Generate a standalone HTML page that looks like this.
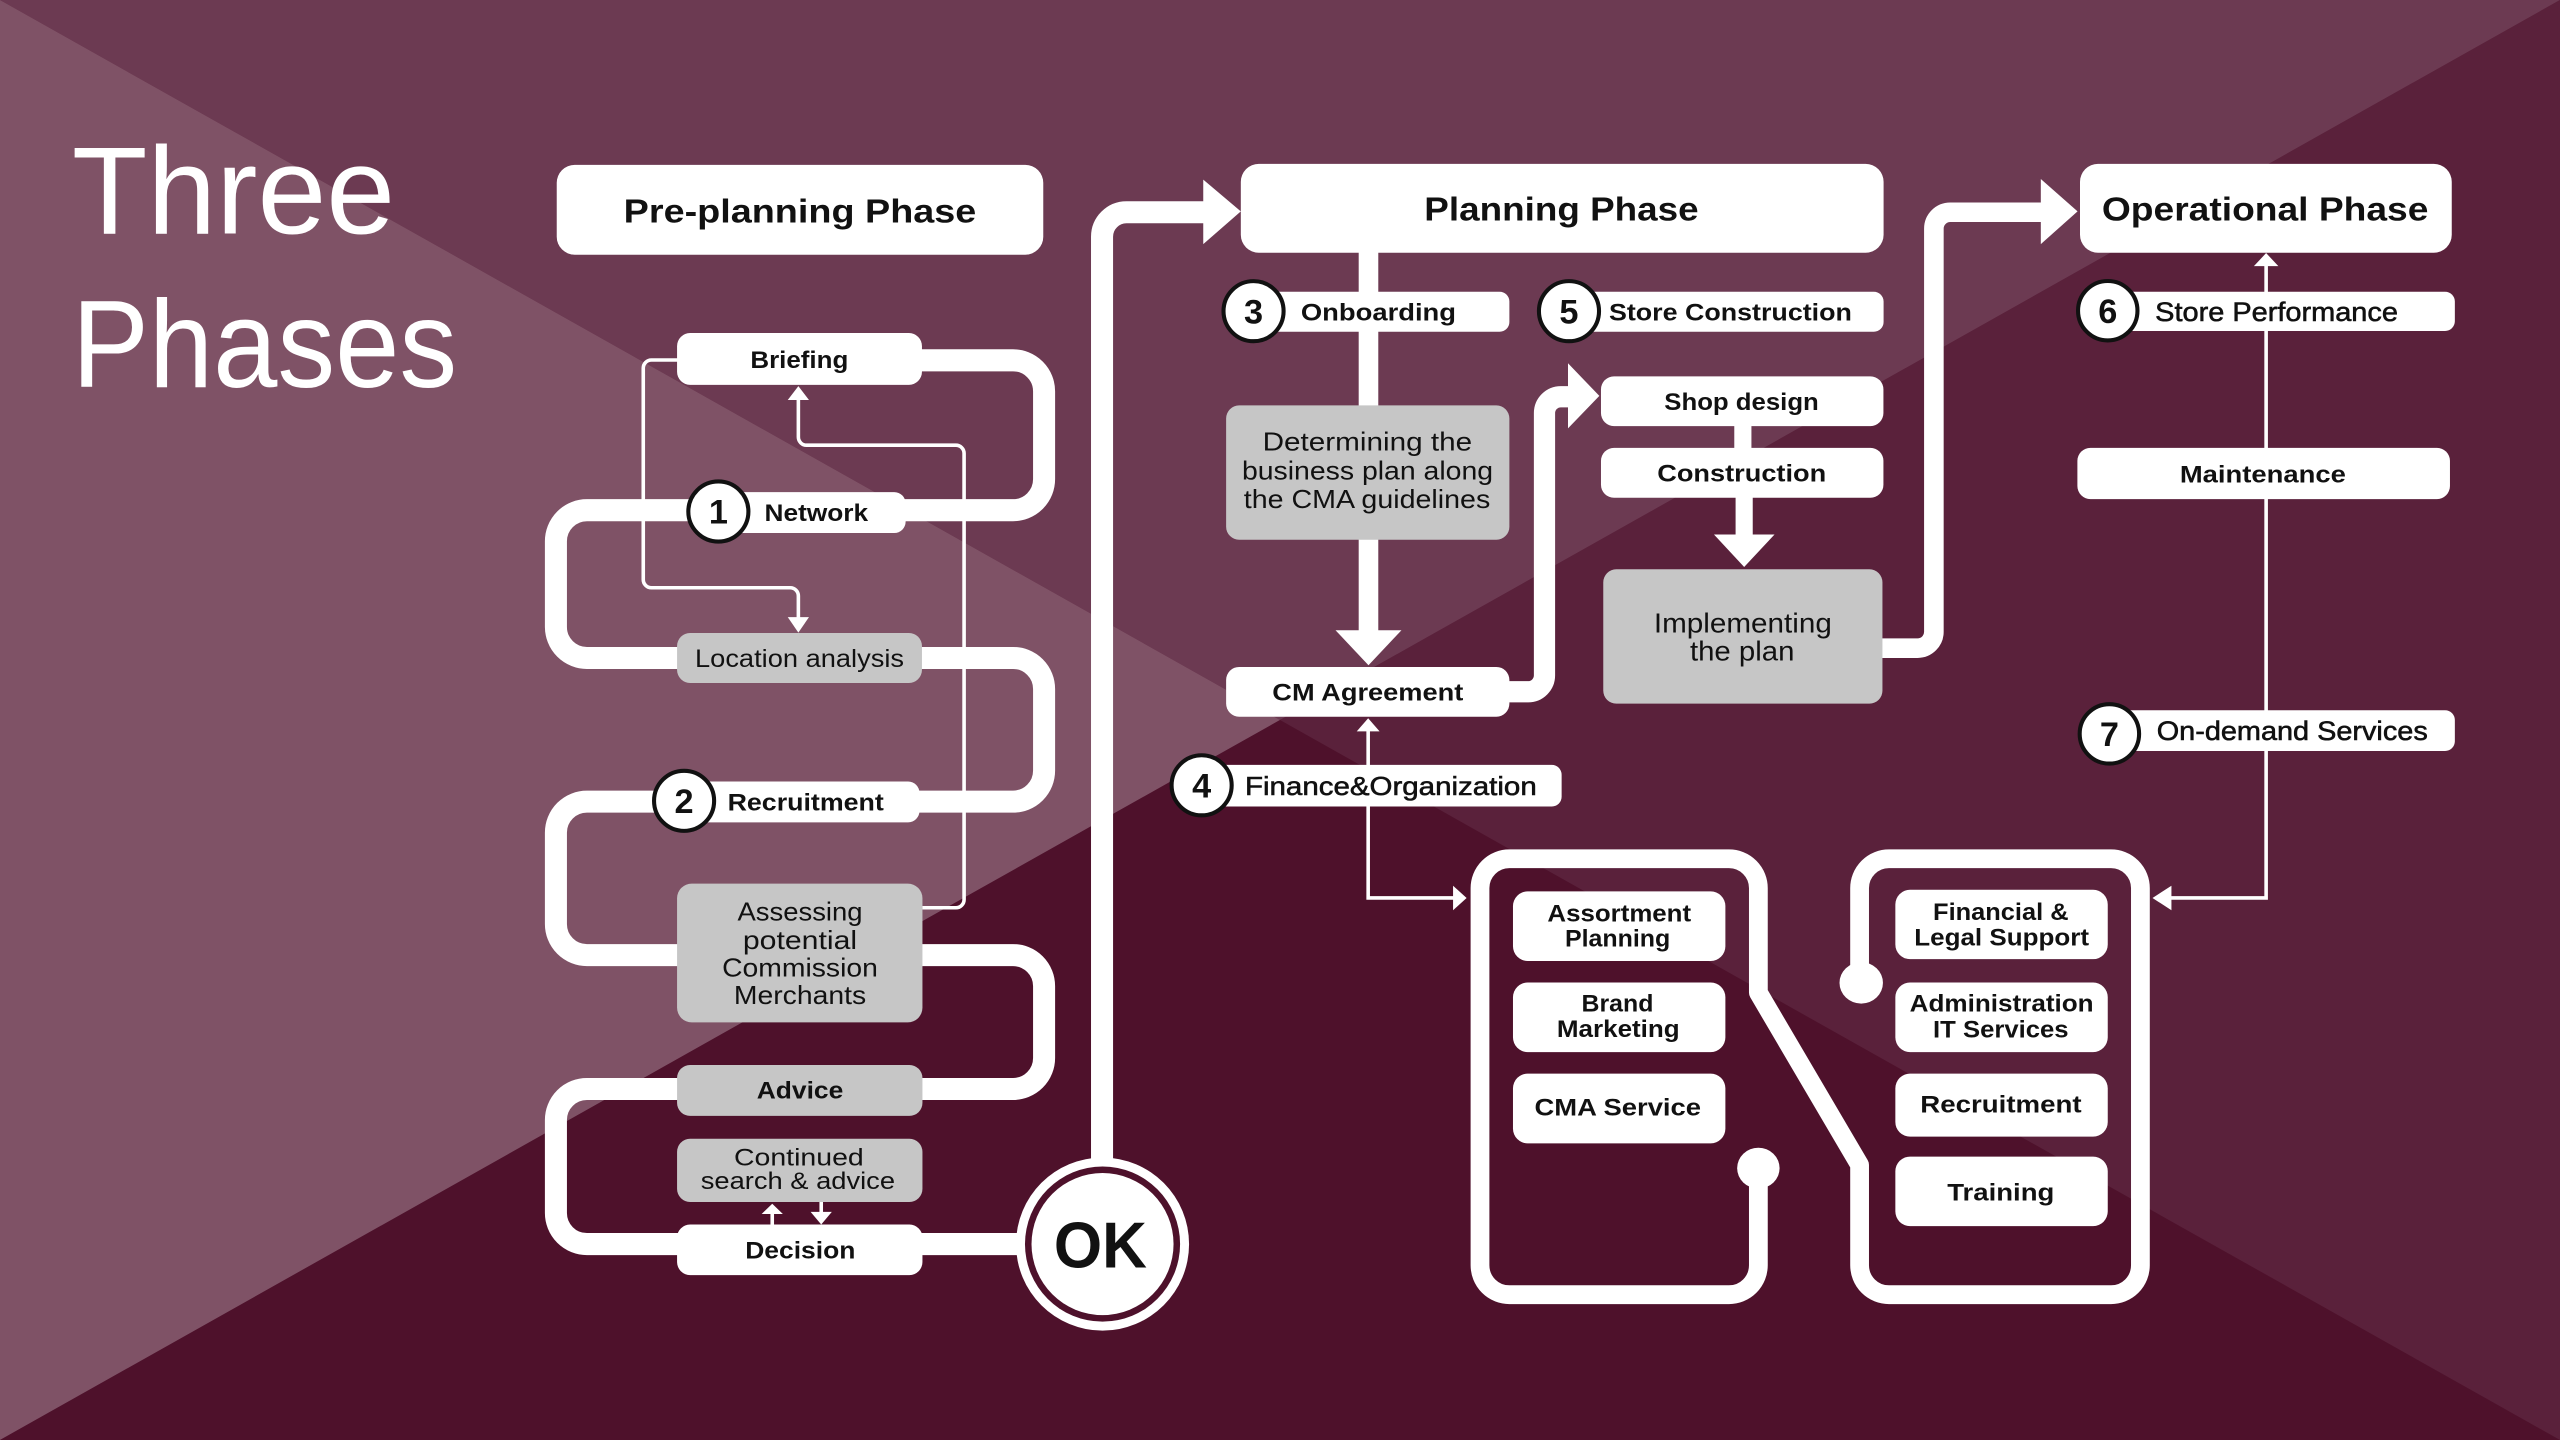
<!DOCTYPE html>
<html>
<head>
<meta charset="utf-8">
<style>
html,body{margin:0;padding:0;width:2560px;height:1440px;overflow:hidden;background:#5a213b;}
svg{display:block;}
text{font-family:"Liberation Sans",Arial,sans-serif;fill:#111;}
.b{font-weight:bold;}
.c{text-anchor:middle;}
.m{stroke:#111;stroke-width:0.35;}
.t{fill:#fff;}
.band{fill:none;stroke:#fff;stroke-width:13.5;}
.thin{fill:none;stroke:#fff;stroke-width:2.2;}
.num{fill:#fff;stroke:#111;stroke-width:2.5;}
</style>
</head>
<body>
<svg xmlns="http://www.w3.org/2000/svg" width="2560" height="1440" viewBox="0 0 1568 882">
  <!-- background -->
  <polygon points="0,0 1568,0 784,441" fill="#6c3a52"/>
  <polygon points="0,0 0,882 784,441" fill="#7f5266"/>
  <polygon points="1568,0 1568,882 784,441" fill="#5a213b"/>
  <polygon points="0,882 1568,882 784,441" fill="#4e112b"/>

  <!-- title -->
  <text x="44" y="143" class="t" font-size="76" textLength="198" lengthAdjust="spacingAndGlyphs">Three</text>
  <text x="44" y="237" class="t" font-size="76" textLength="236" lengthAdjust="spacingAndGlyphs">Phases</text>

  <!-- ===== Pre-planning serpentine ===== -->
  <path class="band" d="M 560 220.7 H 620.5 A 19 19 0 0 1 639.5 239.7 V 293.5 A 19 19 0 0 1 620.5 312.5 H 359.5 A 19 19 0 0 0 340.5 331.5 V 384 A 19 19 0 0 0 359.5 403 H 620.5 A 19 19 0 0 1 639.5 422 V 472 A 19 19 0 0 1 620.5 491 H 359.5 A 19 19 0 0 0 340.5 510 V 566 A 19 19 0 0 0 359.5 585 H 620.5 A 19 19 0 0 1 639.5 604 V 648 A 19 19 0 0 1 620.5 667 H 359.5 A 19 19 0 0 0 340.5 686 V 743 A 19 19 0 0 0 359.5 762 H 630"/>

  <!-- thin feedback lines -->
  <path class="thin" d="M 415 220.5 H 399 A 5 5 0 0 0 394 225.5 V 355 A 5 5 0 0 0 399 360 H 484 A 5 5 0 0 1 489 365 V 379"/>
  <polygon points="482.5,378 495.5,378 489,387.5" fill="#fff"/>
  <path class="thin" d="M 565 556 H 585.5 A 5 5 0 0 0 590.5 551 V 277.7 A 5 5 0 0 0 585.5 272.7 H 494 A 5 5 0 0 1 489 267.7 V 244"/>
  <polygon points="482.5,245 495.5,245 489,236.5" fill="#fff"/>

  <!-- continued/decision small arrows -->
  <line x1="473" y1="751" x2="473" y2="743" stroke="#fff" stroke-width="2.2"/>
  <polygon points="466.5,743.6 479.5,743.6 473,737.3" fill="#fff"/>
  <line x1="503" y1="736" x2="503" y2="743" stroke="#fff" stroke-width="2.2"/>
  <polygon points="496.5,742.3 509.5,742.3 503,750" fill="#fff"/>

  <!-- OK -> Planning connector -->
  <path class="band" d="M 675 712 V 145 A 15 15 0 0 1 690 130 H 740"/>
  <polygon points="737,110 737,149.5 760,129.5" fill="#fff"/>

  <!-- phase boxes -->
  <rect x="341" y="101" width="298" height="55" rx="11" fill="#fff"/>
  <text x="490" y="136.3" class="b c" font-size="20.5" textLength="216" lengthAdjust="spacingAndGlyphs">Pre-planning Phase</text>
  <rect x="760" y="100.4" width="393.7" height="54.4" rx="11" fill="#fff"/>
  <text x="956.4" y="135" class="b c" font-size="20.5" textLength="168" lengthAdjust="spacingAndGlyphs">Planning Phase</text>
  <rect x="1274" y="100.4" width="227.7" height="54.4" rx="11" fill="#fff"/>
  <text x="1387.4" y="135" class="b c" font-size="20.5" textLength="200" lengthAdjust="spacingAndGlyphs">Operational Phase</text>

  <!-- pre-planning boxes -->
  <rect x="414.7" y="204" width="150" height="31.7" rx="8" fill="#fff"/>
  <text x="489.6" y="225.4" class="b c" font-size="15" textLength="60" lengthAdjust="spacingAndGlyphs">Briefing</text>

  <rect x="440" y="301.4" width="114.7" height="25.1" rx="7" fill="#fff"/>
  <text x="500" y="319.2" class="b c" font-size="15" textLength="63.4" lengthAdjust="spacingAndGlyphs">Network</text>
  <circle cx="440" cy="313.3" r="18.4" class="num"/>
  <text x="440" y="320.8" class="b c" font-size="21">1</text>

  <rect x="414.7" y="387.7" width="150" height="30.6" rx="8" fill="#c6c6c6"/>
  <text x="489.7" y="408.5" class="c" font-size="15.5" textLength="128" lengthAdjust="spacingAndGlyphs">Location analysis</text>

  <rect x="419" y="478.7" width="144.2" height="25" rx="7" fill="#fff"/>
  <text x="493.5" y="496.4" class="b c" font-size="15" textLength="95.7" lengthAdjust="spacingAndGlyphs">Recruitment</text>
  <circle cx="419" cy="490.5" r="18.4" class="num"/>
  <text x="419" y="498" class="b c" font-size="21">2</text>

  <rect x="414.7" y="541.2" width="150.3" height="85" rx="9" fill="#c6c6c6"/>
  <text x="490" y="563.9" class="c" font-size="16" textLength="76.6" lengthAdjust="spacingAndGlyphs">Assessing</text>
  <text x="490" y="581.4" class="c" font-size="16" textLength="70" lengthAdjust="spacingAndGlyphs">potential</text>
  <text x="490" y="598.2" class="c" font-size="16" textLength="95.4" lengthAdjust="spacingAndGlyphs">Commission</text>
  <text x="490" y="614.9" class="c" font-size="16" textLength="81" lengthAdjust="spacingAndGlyphs">Merchants</text>

  <rect x="414.7" y="652.3" width="150.3" height="31.2" rx="8" fill="#c6c6c6"/>
  <text x="490" y="672.9" class="b c" font-size="15" textLength="53" lengthAdjust="spacingAndGlyphs">Advice</text>

  <rect x="414.7" y="697.5" width="150.3" height="38.7" rx="8" fill="#c6c6c6"/>
  <text x="489.3" y="713.8" class="c" font-size="15" textLength="79.5" lengthAdjust="spacingAndGlyphs">Continued</text>
  <text x="488.7" y="728.2" class="c" font-size="15" textLength="119" lengthAdjust="spacingAndGlyphs">search &amp; advice</text>

  <rect x="414.7" y="750" width="150.3" height="31" rx="8" fill="#fff"/>
  <text x="490.2" y="770.7" class="b c" font-size="15" textLength="67.5" lengthAdjust="spacingAndGlyphs">Decision</text>

  <!-- OK circle -->
  <circle cx="675.3" cy="762" r="53" fill="#fff"/>
  <circle cx="675.3" cy="762" r="47.5" fill="#4e112b"/>
  <circle cx="675.3" cy="762" r="43.5" fill="#fff"/>
  <text x="674" y="776.5" class="b c" font-size="40" textLength="57" lengthAdjust="spacingAndGlyphs">OK</text>

  <!-- ===== Planning ===== -->
  <line x1="838.2" y1="154" x2="838.2" y2="387" stroke="#fff" stroke-width="12"/>
  <polygon points="818,386 858.4,386 838.2,407.5" fill="#fff"/>
  <path fill="none" stroke="#fff" stroke-width="13" d="M 922 423.7 H 936 A 10 10 0 0 0 946 413.7 V 253 A 10 10 0 0 1 956 243 H 962"/>
  <polygon points="960.4,222.5 960.4,262.4 979.6,242.5" fill="#fff"/>
  <line x1="1067.5" y1="259" x2="1067.5" y2="277" stroke="#fff" stroke-width="10.5"/>
  <line x1="1068.3" y1="303" x2="1068.3" y2="328.5" stroke="#fff" stroke-width="10.5"/>
  <polygon points="1049.8,327.4 1086.9,327.4 1068.3,347.3" fill="#fff"/>
  <path fill="none" stroke="#fff" stroke-width="12" d="M 1150 397 H 1174.5 A 10 10 0 0 0 1184.5 387 V 140 A 10 10 0 0 1 1194.5 130 H 1252"/>
  <polygon points="1250,109.6 1250,149.5 1272.5,129.5" fill="#fff"/>

  <!-- Finance thin connector -->
  <path class="thin" d="M 838 447 V 550 H 891"/>
  <polygon points="831,448 845,448 838,439.9" fill="#fff"/>
  <polygon points="890,542.5 890,557.5 898.3,550" fill="#fff"/>

  <rect x="768" y="178.7" width="156.5" height="24.5" rx="6" fill="#fff"/>
  <text x="844.3" y="196.3" class="b c" font-size="15" textLength="95" lengthAdjust="spacingAndGlyphs">Onboarding</text>
  <circle cx="767.8" cy="190.6" r="18.4" class="num"/>
  <text x="767.8" y="198.1" class="b c" font-size="21">3</text>

  <rect x="961" y="178.7" width="192.7" height="24.5" rx="6" fill="#fff"/>
  <text x="1059.9" y="196.4" class="b c" font-size="15" textLength="148.8" lengthAdjust="spacingAndGlyphs">Store Construction</text>
  <circle cx="961" cy="190.6" r="18.4" class="num"/>
  <text x="961" y="198.1" class="b c" font-size="21">5</text>

  <rect x="751" y="248.3" width="173.5" height="82.3" rx="8" fill="#c6c6c6"/>
  <text x="837.5" y="276" class="c" font-size="16" textLength="128.3" lengthAdjust="spacingAndGlyphs">Determining the</text>
  <text x="837.6" y="293.7" class="c" font-size="16" textLength="153.8" lengthAdjust="spacingAndGlyphs">business plan along</text>
  <text x="837.3" y="311.3" class="c" font-size="16" textLength="151" lengthAdjust="spacingAndGlyphs">the CMA guidelines</text>

  <rect x="751" y="408.5" width="173.5" height="30.5" rx="8" fill="#fff"/>
  <text x="837.8" y="429.1" class="b c" font-size="15" textLength="117" lengthAdjust="spacingAndGlyphs">CM Agreement</text>

  <rect x="980.6" y="230.5" width="173" height="30.5" rx="8" fill="#fff"/>
  <text x="1066.7" y="251.1" class="b c" font-size="15" textLength="94.6" lengthAdjust="spacingAndGlyphs">Shop design</text>
  <rect x="980.6" y="274.3" width="173" height="30.6" rx="8" fill="#fff"/>
  <text x="1066.8" y="295" class="b c" font-size="15" textLength="103.5" lengthAdjust="spacingAndGlyphs">Construction</text>

  <rect x="982" y="348.7" width="171" height="82.3" rx="8" fill="#c6c6c6"/>
  <text x="1067.5" y="387.4" class="c" font-size="17" textLength="109" lengthAdjust="spacingAndGlyphs">Implementing</text>
  <text x="1067.1" y="404.7" class="c" font-size="17" textLength="64" lengthAdjust="spacingAndGlyphs">the plan</text>

  <rect x="736" y="468.5" width="220.5" height="25.5" rx="6" fill="#fff"/>
  <text x="851.9" y="487" class="c m" font-size="16" textLength="178.7" lengthAdjust="spacingAndGlyphs">Finance&amp;Organization</text>
  <circle cx="736" cy="481" r="18.4" class="num"/>
  <text x="736" y="488.5" class="b c" font-size="21">4</text>

  <!-- ===== Operational ===== -->
  <path class="thin" d="M 1388 162 V 550 H 1329"/>
  <polygon points="1380.5,163 1395.5,163 1388,155" fill="#fff"/>
  <polygon points="1330,542.5 1330,557.5 1318.4,550" fill="#fff"/>

  <rect x="1291" y="178.7" width="212.6" height="24" rx="6" fill="#fff"/>
  <text x="1394.4" y="196.5" class="c m" font-size="16.5" textLength="148.7" lengthAdjust="spacingAndGlyphs">Store Performance</text>
  <circle cx="1291" cy="190.3" r="18.2" class="num"/>
  <text x="1291" y="197.8" class="b c" font-size="21">6</text>

  <rect x="1272.4" y="274.3" width="228.2" height="31.4" rx="8" fill="#fff"/>
  <text x="1386" y="295.4" class="b c" font-size="15" textLength="101.7" lengthAdjust="spacingAndGlyphs">Maintenance</text>

  <rect x="1292" y="435" width="211.6" height="25" rx="6" fill="#fff"/>
  <text x="1404" y="453.4" class="c m" font-size="16.5" textLength="166" lengthAdjust="spacingAndGlyphs">On-demand Services</text>
  <circle cx="1292" cy="449.5" r="18.2" class="num"/>
  <text x="1292" y="457" class="b c" font-size="21">7</text>

  <!-- ===== Services containers ===== -->
  <path fill="none" stroke="#fff" stroke-width="11.5" stroke-linejoin="round" d="M 1077 715 V 775 A 18 18 0 0 1 1059 793 H 924.5 A 18 18 0 0 1 906.5 775 V 544 A 18 18 0 0 1 924.5 526 H 1059 A 18 18 0 0 1 1077 544 V 608 L 1139 713.5 V 775 A 18 18 0 0 0 1157 793 H 1293 A 18 18 0 0 0 1311 775 V 544 A 18 18 0 0 0 1293 526 H 1157 A 18 18 0 0 0 1139 544 V 602"/>
  <ellipse cx="1077" cy="715.5" rx="13" ry="12.5" fill="#fff"/>
  <ellipse cx="1140" cy="602" rx="13.3" ry="12.7" fill="#fff"/>

  <rect x="926.7" y="546" width="130.1" height="42.6" rx="9" fill="#fff"/>
  <text x="991.8" y="564.4" class="b c" font-size="15" textLength="88" lengthAdjust="spacingAndGlyphs">Assortment</text>
  <text x="990.8" y="579.7" class="b c" font-size="15" textLength="64.5" lengthAdjust="spacingAndGlyphs">Planning</text>

  <rect x="926.7" y="601.8" width="130.1" height="42.6" rx="9" fill="#fff"/>
  <text x="990.7" y="619.7" class="b c" font-size="15" textLength="44" lengthAdjust="spacingAndGlyphs">Brand</text>
  <text x="991.2" y="635.2" class="b c" font-size="15" textLength="75.2" lengthAdjust="spacingAndGlyphs">Marketing</text>

  <rect x="926.7" y="657.6" width="130.1" height="42.7" rx="9" fill="#fff"/>
  <text x="990.9" y="683.4" class="b c" font-size="15" textLength="102" lengthAdjust="spacingAndGlyphs">CMA Service</text>

  <rect x="1160.9" y="545" width="130.1" height="42.5" rx="9" fill="#fff"/>
  <text x="1225.5" y="563.4" class="b c" font-size="15" textLength="83" lengthAdjust="spacingAndGlyphs">Financial &amp;</text>
  <text x="1226" y="579.1" class="b c" font-size="15" textLength="107" lengthAdjust="spacingAndGlyphs">Legal Support</text>

  <rect x="1160.9" y="601.8" width="130.1" height="42.6" rx="9" fill="#fff"/>
  <text x="1226" y="619.7" class="b c" font-size="15" textLength="112.7" lengthAdjust="spacingAndGlyphs">Administration</text>
  <text x="1225.5" y="635.4" class="b c" font-size="15" textLength="83" lengthAdjust="spacingAndGlyphs">IT Services</text>

  <rect x="1160.9" y="657.6" width="130.1" height="38.6" rx="9" fill="#fff"/>
  <text x="1225.6" y="681.4" class="b c" font-size="15" textLength="98.8" lengthAdjust="spacingAndGlyphs">Recruitment</text>

  <rect x="1160.9" y="708.4" width="130.1" height="42.6" rx="9" fill="#fff"/>
  <text x="1225.5" y="735.4" class="b c" font-size="15" textLength="65.6" lengthAdjust="spacingAndGlyphs">Training</text>
</svg>
</body>
</html>
